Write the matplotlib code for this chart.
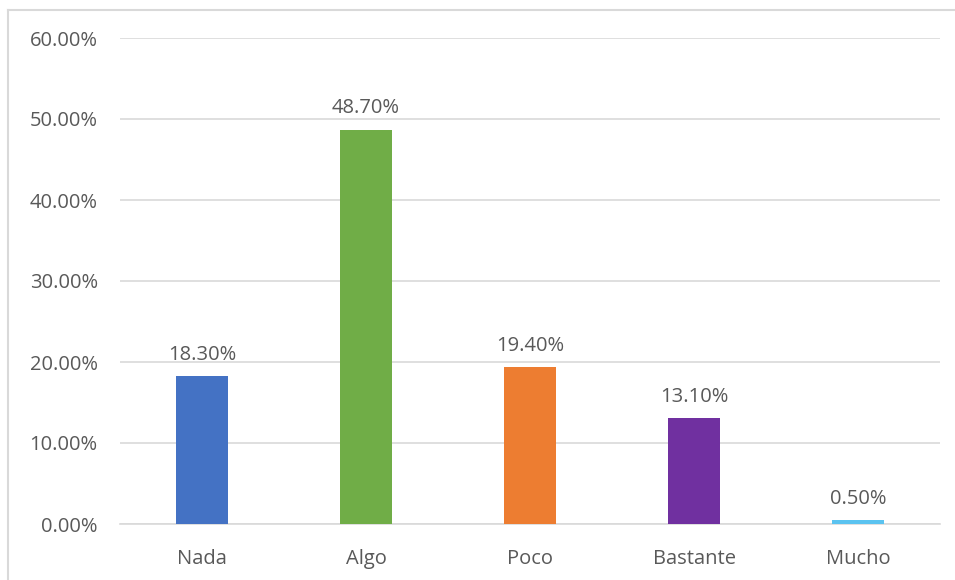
import matplotlib
matplotlib.use("Agg")
import matplotlib.pyplot as plt
from matplotlib.lines import Line2D

categories = ["Nada", "Algo", "Poco", "Bastante", "Mucho"]
values = [18.3, 48.7, 19.4, 13.1, 0.5]
colors = ["#4472C4", "#70AD47", "#ED7D31", "#7030A0", "#5BC3F0"]
yticks = [0, 10, 20, 30, 40, 50, 60]

plt.rcParams['font.family'] = ['Open Sans', 'DejaVu Sans']
txt = "#595959"
fs = 14.5

fig = plt.figure(figsize=(9.55, 5.8), dpi=100)
ax = fig.add_axes([120/955, 56/580, 820/955, 486/580])
x = list(range(len(categories)))
ax.bar(x, values, width=0.32, color=colors, zorder=3)
ax.set_xlim(-0.5, len(categories) - 0.5)
ax.set_ylim(0, 60)
ax.set_yticks(yticks)
ax.set_yticklabels([f"{v:.2f}%" for v in yticks])
ax.set_xticks(x)
ax.set_xticklabels(categories)
ax.tick_params(axis='both', length=0, labelsize=fs, colors=txt)
ax.tick_params(axis='y', pad=16)
ax.tick_params(axis='x', pad=18)
ax.grid(axis='y', color="#D9D9D9", linewidth=1.2, zorder=0)
for s in ["top", "right", "left"]:
    ax.spines[s].set_visible(False)
ax.spines["bottom"].set_color("#D9D9D9")
ax.spines["bottom"].set_linewidth(1.2)
for i, v in enumerate(values):
    ax.annotate(f"{v:.2f}%", (i, v), xytext=(0, 8), textcoords="offset points",
                ha="center", va="bottom", fontsize=fs, color=txt)

fig.add_artist(Line2D([8/955, 8/955], [0, 1 - 10/580], color="#D9D9D9", lw=1.5, transform=fig.transFigure))
fig.add_artist(Line2D([8/955, 1], [1 - 10/580, 1 - 10/580], color="#D9D9D9", lw=1.5, transform=fig.transFigure))

fig.savefig("out.png", dpi=100)
